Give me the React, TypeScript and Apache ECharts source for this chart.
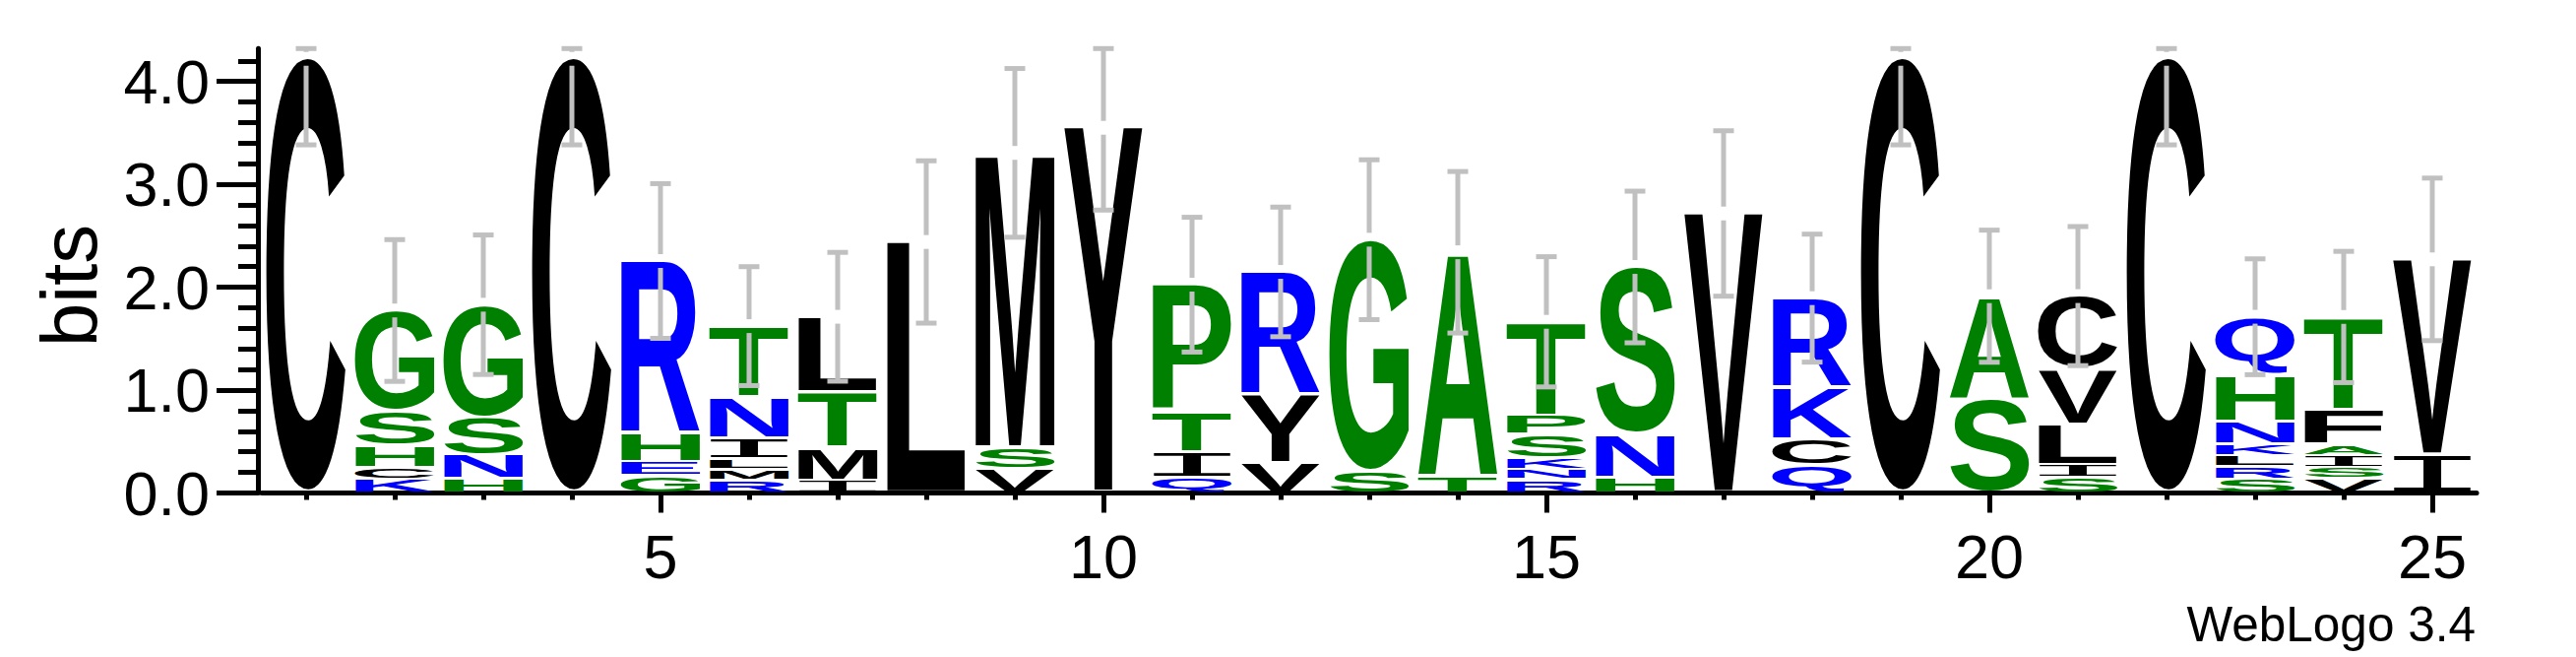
import React, { useEffect, useRef } from "react";
import * as echarts from "echarts";

// ---- data ----
const positions = [1, 2, 3, 4, 5, 6, 7, 8, 9, 10, 11, 12, 13, 14, 15, 16, 17, 18, 19, 20, 21, 22, 23, 24, 25];

// letters of each stack, listed top -> bottom
const stackLetters = [
  "C", "GSHCK", "GSNH", "C", "RHEG", "TNILMR", "LTMI", "L", "MSV", "Y",
  "PTIQ", "RYV", "GS", "AT", "TPSKNR", "SNH", "V", "RKCQ", "C", "AS",
  "CVLIS", "C", "QHNKLRS", "TFAISV", "VI",
];

// heights (bits) of each letter, top -> bottom
const stackHeights = [
  [4.22],
  [0.973, 0.335, 0.22, 0.112, 0.134],
  [1.091, 0.367, 0.233, 0.139],
  [4.22],
  [1.669, 0.278, 0.14, 0.168],
  [0.686, 0.402, 0.201, 0.105, 0.108, 0.12],
  [0.731, 0.535, 0.319, 0.128],
  [2.44],
  [2.87, 0.201, 0.235],
  [3.55],
  [1.238, 0.383, 0.254, 0.15],
  [1.19, 0.664, 0.295],
  [2.25, 0.212],
  [2.176, 0.164],
  [0.909, 0.185, 0.227, 0.11, 0.102, 0.131],
  [1.623, 0.418, 0.156],
  [2.717],
  [0.858, 0.506, 0.257, 0.273],
  [4.22],
  [0.996, 0.917],
  [0.704, 0.535, 0.394, 0.129, 0.152],
  [4.22],
  [0.554, 0.455, 0.228, 0.11, 0.109, 0.121, 0.136],
  [0.898, 0.338, 0.108, 0.115, 0.115, 0.137],
  [1.899, 0.372],
];

// error bar half-widths (bits)
const errorBits = [
  0.836, 0.689, 0.678, 0.836, 0.752, 0.578, 0.626, 0.789, 0.82, 0.8,
  0.655, 0.63, 0.777, 0.785, 0.633, 0.737, 0.804, 0.622, 0.836, 0.642,
  0.676, 0.836, 0.563, 0.638, 0.79,
];

const yMax = 4.32; // log2(20)
const yMajorTicks = [0, 1, 2, 3, 4];
const yMinorTicks = [0.2, 0.4, 0.6, 0.8, 1.2, 1.4, 1.6, 1.8, 2.2, 2.4, 2.6, 2.8, 3.2, 3.4, 3.6, 3.8, 4.2];
const xMajorTicks = [5, 10, 15, 20, 25];

const hydrophilic = "RKDENQ";
const neutral = "SGHTAP";
const colorOf = (ch: string) =>
  hydrophilic.includes(ch) ? "#0000ff" : neutral.includes(ch) ? "#008000" : "#000000";

const FAMILY = "'Liberation Sans', Arial, Helvetica, sans-serif";
const fontOf = (ch: string) =>
  ch === "I" ? "100px 'Liberation Mono', 'DejaVu Sans Mono', monospace" : `bold 100px ${FAMILY}`;

const metricCache: Record<string, any> = {};
function measure(ch: string) {
  const font = fontOf(ch);
  const key = ch + "|" + font;
  if (metricCache[key]) return metricCache[key];
  const ctx = document.createElement("canvas").getContext("2d") as CanvasRenderingContext2D;
  ctx.font = font;
  ctx.textBaseline = "alphabetic";
  ctx.textAlign = "left";
  const m = ctx.measureText(ch);
  const fa = (m as any).fontBoundingBoxAscent ?? 90.5;
  const fd = (m as any).fontBoundingBoxDescent ?? 21.2;
  const central = (fa - fd) / 2;
  const res = {
    L: m.actualBoundingBoxLeft,
    R: m.actualBoundingBoxRight,
    top: -m.actualBoundingBoxAscent + central,
    bottom: m.actualBoundingBoxDescent + central,
  };
  metricCache[key] = res;
  return res;
}

export default function App() {
  const ref = useRef<HTMLDivElement>(null);

  useEffect(() => {
    if (!ref.current) return;
    const chart = echarts.init(ref.current, null, { renderer: "svg" });

    const letterData: number[][] = [];
    const letterChars: string[] = [];
    const errData: number[][] = [];
    positions.forEach((pos, i) => {
      const letters = stackLetters[i];
      const hs = stackHeights[i];
      let y = 0;
      for (let k = letters.length - 1; k >= 0; k--) {
        letterData.push([pos, y, y + hs[k]]);
        letterChars.push(letters[k]);
        y += hs[k];
      }
      errData.push([pos, y, errorBits[i]]);
    });

    const renderLetter = (params: any, api: any) => {
      const ch = letterChars[params.dataIndex];
      const x = api.value(0);
      const p0 = api.coord([x, api.value(1)]);
      const p1 = api.coord([x, api.value(2)]);
      const colW = api.size([1, 0])[0];
      const w = colW * 0.9;
      const inset = 1.5;
      const yBottom = p0[1] - inset;
      const yTop = p1[1] + inset;
      const h = Math.max(0.5, yBottom - yTop);
      const m = measure(ch);
      const sx = w / (m.L + m.R);
      const sy = h / (m.bottom - m.top);
      const cx = p0[0];
      const cy = (yTop + yBottom) / 2;
      return {
        type: "text",
        x: cx - (sx * (m.R - m.L)) / 2,
        y: cy - (sy * (m.top + m.bottom)) / 2,
        scaleX: sx,
        scaleY: sy,
        style: {
          text: ch,
          x: 0,
          y: 0,
          font: fontOf(ch),
          fill: colorOf(ch),
          align: "left",
          verticalAlign: "middle",
          textAlign: "left",
          textVerticalAlign: "middle",
        },
      };
    };

    const renderErr = (params: any, api: any) => {
      const x = api.value(0);
      const top = api.value(1);
      const err = api.value(2);
      const hi = Math.min(top + err, yMax);
      const lo = top - err;
      const pTop = api.coord([x, top]);
      const yHi = api.coord([x, hi])[1];
      const yLo = api.coord([x, lo])[1];
      const cx = pTop[0];
      const style = { stroke: "#c0c0c0", lineWidth: 5, fill: null };
      const children: any[] = [];
      const gapUp = pTop[1] - 7;
      const gapDown = pTop[1] + 7;
      if (gapUp > yHi) children.push({ type: "line", shape: { x1: cx, y1: yHi, x2: cx, y2: gapUp }, style });
      children.push({ type: "line", shape: { x1: cx, y1: gapDown, x2: cx, y2: yLo }, style });
      children.push({ type: "line", shape: { x1: cx - 10.5, y1: yHi, x2: cx + 10.5, y2: yHi }, style });
      children.push({ type: "line", shape: { x1: cx - 10.5, y1: yLo, x2: cx + 10.5, y2: yLo }, style });
      return { type: "group", children };
    };

    const axisText = { fontSize: 63, fontFamily: FAMILY, color: "#000" };

    chart.setOption({
      animation: false,
      backgroundColor: "#ffffff",
      grid: { left: 266, right: 101, top: 49.3, bottom: 166.5, containLabel: false },
      xAxis: [
        {
          type: "value",
          min: 0.5,
          max: 25.5,
          position: "bottom",
          axisLine: { show: true, onZero: false, lineStyle: { color: "#000", width: 5 } },
          axisTick: { show: true, length: 20, customValues: xMajorTicks, lineStyle: { color: "#000", width: 5 } },
          axisLabel: { show: true, customValues: xMajorTicks, margin: 33, ...axisText },
          splitLine: { show: false },
        },
        {
          type: "value",
          min: 0.5,
          max: 25.5,
          position: "bottom",
          axisLine: { show: false, onZero: false },
          axisTick: { show: true, length: 7, customValues: positions, lineStyle: { color: "#000", width: 5 } },
          axisLabel: { show: false },
          splitLine: { show: false },
        },
      ],
      yAxis: [
        {
          type: "value",
          min: 0,
          max: yMax,
          position: "left",
          offset: 4,
          axisLine: { show: true, onZero: false, lineStyle: { color: "#000", width: 5 } },
          axisTick: { show: true, length: 42, customValues: yMajorTicks, lineStyle: { color: "#000", width: 5 } },
          axisLabel: {
            show: true,
            customValues: yMajorTicks,
            margin: 49,
            formatter: (v: number) => v.toFixed(1),
            ...axisText,
          },
          splitLine: { show: false },
        },
        {
          type: "value",
          min: 0,
          max: yMax,
          position: "left",
          offset: 4,
          axisLine: { show: false, onZero: false },
          axisTick: { show: true, length: 20, customValues: yMinorTicks, lineStyle: { color: "#000", width: 5 } },
          axisLabel: { show: false },
          splitLine: { show: false },
        },
      ],
      graphic: [
        {
          type: "text",
          x: 70,
          y: 290,
          rotation: Math.PI / 2,
          style: {
            text: "bits",
            font: `80px ${FAMILY}`,
            fill: "#000",
            align: "center",
            verticalAlign: "middle",
          },
        },
        {
          type: "text",
          x: 2515,
          y: 633,
          style: {
            text: "WebLogo 3.4",
            font: `49.5px ${FAMILY}`,
            fill: "#000",
            align: "right",
            verticalAlign: "middle",
          },
        },
      ],
      series: [
        {
          type: "custom",
          name: "letters",
          xAxisIndex: 0,
          yAxisIndex: 0,
          clip: false,
          silent: true,
          renderItem: renderLetter,
          data: letterData,
          z: 2,
        },
        {
          type: "custom",
          name: "errors",
          xAxisIndex: 0,
          yAxisIndex: 0,
          clip: false,
          silent: true,
          renderItem: renderErr,
          data: errData,
          z: 3,
        },
      ],
    });

    return () => chart.dispose();
  }, []);

  return (
    <div
      ref={ref}
      style={{ position: "absolute", left: 0, top: 0, width: 2617, height: 667, background: "#fff" }}
    />
  );
}
